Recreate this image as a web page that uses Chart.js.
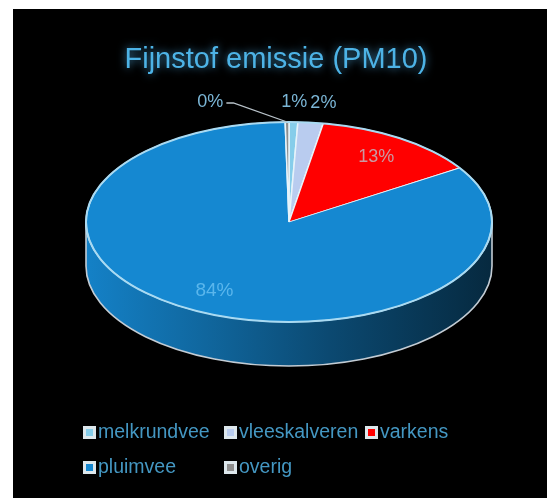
<!DOCTYPE html>
<html>
<head>
<meta charset="utf-8">
<script src="https://cdn.jsdelivr.net/npm/chart.js@4.4.1/dist/chart.umd.min.js"></script>
<style>
html,body{margin:0;padding:0;background:#fff;overflow:hidden}
#wrap{width:547px;height:498px}
canvas{display:block}
</style>
</head>
<body>
<div id="wrap"><canvas id="c" width="547" height="498"></canvas></div>
<script>
// ---- data ----
const titleText = 'Fijnstof emissie (PM10)';
const categories = ['melkrundvee', 'vleeskalveren', 'varkens', 'pluimvee', 'overig'];
const emissionShare = [0.7, 2.0, 13.2, 83.8, 0.3];

// ---- style ----
const sliceColors = ['#86cdea', '#b9ccef', '#ff0000', '#1588d1', '#8e8e8e'];
const insideLabelColors = ['#7bb6d6', '#7bb6d6', '#c99aa2', '#5ab6ec', '#7bb6d6'];
const PIE = { cx: 289, cy: 222, rx: 203, ry: 100, depth: 44 };
const FONT = '"Liberation Sans", Arial, sans-serif';

function shade(hex, f) {
  const n = parseInt(hex.slice(1), 16);
  const r = Math.round(((n >> 16) & 255) * f), g = Math.round(((n >> 8) & 255) * f), b = Math.round((n & 255) * f);
  return 'rgb(' + r + ',' + g + ',' + b + ')';
}

const pie3d = {
  id: 'pie3d',
  beforeDraw(chart) {
    const { ctx, width, height } = chart;
    ctx.save();
    ctx.fillStyle = '#ffffff';
    ctx.fillRect(0, 0, width, height);
    ctx.fillStyle = '#000000';
    ctx.fillRect(13, 9, width - 13, height - 9);
    ctx.restore();
    // glow for the title (drawn next by the title plugin)
    ctx.shadowColor = 'rgba(80,175,230,0.8)';
    ctx.shadowBlur = 8;
  },
  beforeDatasetsDraw(chart) {
    const ctx = chart.ctx;
    ctx.shadowColor = 'rgba(0,0,0,0)';
    ctx.shadowBlur = 0;
    const meta = chart.getDatasetMeta(0);
    const { cx, cy, rx, ry, depth } = PIE;
    // side walls (front half only)
    meta.data.forEach((arc, i) => {
      const lo = Math.max(arc.startAngle, 0), hi = Math.min(arc.endAngle, Math.PI);
      if (hi <= lo) return;
      const base = sliceColors[i];
      const g = ctx.createLinearGradient(cx - rx, 0, cx + rx, 0);
      g.addColorStop(0, shade(base, 0.95));
      g.addColorStop(0.3, shade(base, 0.75));
      g.addColorStop(0.6, shade(base, 0.54));
      g.addColorStop(1, shade(base, 0.3));
      ctx.beginPath();
      ctx.ellipse(cx, cy, rx, ry, 0, lo, hi, false);
      ctx.ellipse(cx, cy + depth, rx, ry, 0, hi, lo, true);
      ctx.closePath();
      ctx.fillStyle = g;
      ctx.fill();
    });
    // bottom edge outline
    ctx.save();
    ctx.strokeStyle = '#c3ccd4';
    ctx.lineWidth = 1.6;
    ctx.beginPath();
    ctx.moveTo(cx - rx, cy);
    ctx.lineTo(cx - rx, cy + depth);
    ctx.ellipse(cx, cy + depth, rx, ry, 0, Math.PI, 0, true);
    ctx.lineTo(cx + rx, cy);
    ctx.stroke();
    ctx.restore();
    // project the library's flat pie onto the tilted top face
    const a0 = meta.data[0];
    ctx.save();
    ctx.translate(cx, cy);
    ctx.scale(rx / a0.outerRadius, ry / a0.outerRadius);
    ctx.translate(-a0.x, -a0.y);
  },
  afterDatasetsDraw(chart) {
    const ctx = chart.ctx;
    ctx.restore();
    const { cx, cy, rx, ry } = PIE;
    // rim of the top face
    ctx.save();
    ctx.strokeStyle = '#a9daf2';
    ctx.lineWidth = 2;
    ctx.beginPath();
    ctx.ellipse(cx, cy, rx, ry, 0, 0, Math.PI * 2);
    ctx.stroke();
    ctx.restore();

    // data labels
    const meta = chart.getDatasetMeta(0);
    const values = chart.data.datasets[0].data;
    const total = values.reduce((a, b) => a + b, 0);
    ctx.save();
    ctx.font = '18px ' + FONT;
    ctx.textBaseline = 'middle';
    ctx.textAlign = 'center';
    const outside = [];
    meta.data.forEach((arc, i) => {
      const pct = values[i] / total * 100;
      const text = Math.round(pct) + '%';
      const mid = (arc.startAngle + arc.endAngle) / 2;
      const clock = ((mid + Math.PI / 2) * 180 / Math.PI + 360) % 360;
      if (pct > 5) {
        const k = 0.78;
        ctx.fillStyle = insideLabelColors[i];
        ctx.font = (pct > 50 ? '19px ' : '18px ') + FONT;
        ctx.fillText(text, cx + rx * k * Math.cos(mid), cy + ry * k * Math.sin(mid));
        ctx.font = '18px ' + FONT;
      } else {
        const k = 1.2;
        outside.push({
          text, clock, w: ctx.measureText(text).width,
          x: cx + rx * k * Math.cos(mid), y: cy + ry * k * Math.sin(mid),
          ax: cx + rx * Math.cos(mid), ay: cy + ry * Math.sin(mid), leader: false
        });
      }
    });
    const GAP = 3, LEADER = 55;
    const right = outside.filter(l => l.clock < 180).sort((a, b) => a.clock - b.clock);
    const left = outside.filter(l => l.clock >= 180).sort((a, b) => b.clock - a.clock);
    for (let j = 1; j < right.length; j++) {
      const p = right[j - 1], l = right[j];
      const minX = p.x + p.w / 2 + GAP + l.w / 2;
      if (l.x < minX && Math.abs(l.y - p.y) < 18) l.x = minX;
    }
    let boundary = right.length ? right[0] : null;
    left.forEach(l => {
      if (boundary && l.x + l.w / 2 > boundary.x - boundary.w / 2 - GAP && Math.abs(l.y - boundary.y) < 18) {
        l.x = boundary.x - boundary.w / 2 - GAP - LEADER - l.w / 2;
        l.leader = true;
      }
      boundary = l;
    });
    outside.forEach(l => {
      ctx.fillStyle = '#7bb6d6';
      ctx.fillText(l.text, l.x, l.y);
      if (l.leader) {
        ctx.strokeStyle = '#b9c3ca';
        ctx.lineWidth = 1.3;
        ctx.beginPath();
        ctx.moveTo(l.x + l.w / 2 + 3, l.y + 1);
        ctx.lineTo(l.x + l.w / 2 + 10, l.y + 1);
        ctx.lineTo(l.ax, l.ay);
        ctx.stroke();
      }
    });
    ctx.restore();
  },
  afterDraw(chart) {
    // legend: 3-column grid
    const ctx = chart.ctx;
    const labels = chart.data.labels;
    ctx.save();
    ctx.font = '19.5px ' + FONT;
    ctx.textBaseline = 'middle';
    ctx.textAlign = 'left';
    labels.forEach((name, i) => {
      const col = i % 3, row = Math.floor(i / 3);
      const x = 83, y = 433 + row * 35;
      const bx = x + col * 141;
      ctx.fillStyle = '#dde7ec';
      ctx.fillRect(bx, y - 7, 13, 13);
      ctx.fillStyle = sliceColors[i];
      ctx.fillRect(bx + 3, y - 4, 7, 7);
      ctx.fillStyle = '#4497c2';
      ctx.fillText(name, bx + 15, y);
    });
    ctx.restore();
  }
};

new Chart(document.getElementById('c'), {
  type: 'pie',
  data: {
    labels: categories,
    datasets: [{
      data: emissionShare,
      backgroundColor: sliceColors,
      borderColor: '#e6f3fa',
      borderWidth: 1.5,
      hoverOffset: 0,
      clip: false
    }]
  },
  options: {
    responsive: false,
    animation: false,
    devicePixelRatio: 1,
    events: [],
    layout: { padding: { left: 5, right: 0, top: 0, bottom: 10 } },
    plugins: {
      legend: { display: false },
      tooltip: { enabled: false },
      title: {
        display: true,
        text: titleText,
        color: '#4db3e6',
        font: { family: FONT, size: 29, weight: 'normal' },
        padding: { top: 43, bottom: 6 }
      }
    }
  },
  plugins: [pie3d]
});
</script>
</body>
</html>
